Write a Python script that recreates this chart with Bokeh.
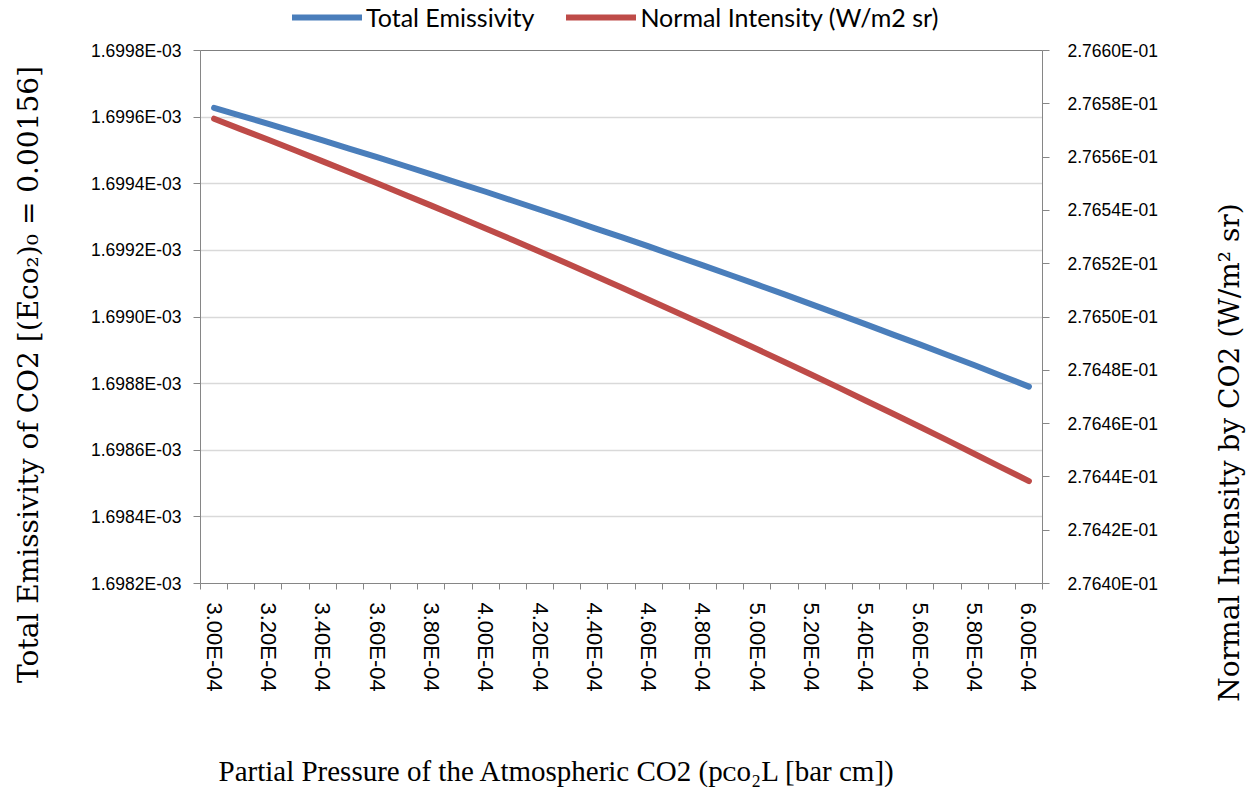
from math import pi
from bokeh.plotting import figure
from bokeh.layouts import row, column
from bokeh.models import (Range1d, LinearAxis, FixedTicker, Span, Label,
                          Legend, LegendItem)
from bokeh.embed import file_html
from bokeh.resources import INLINE

# ---------------- data ----------------
pressures = [3.0e-4, 3.1e-4, 3.2e-4, 3.3e-4, 3.4e-4, 3.5e-4, 3.6e-4, 3.7e-4,
             3.8e-4, 3.9e-4, 4.0e-4, 4.1e-4, 4.2e-4, 4.3e-4, 4.4e-4, 4.5e-4,
             4.6e-4, 4.7e-4, 4.8e-4, 4.9e-4, 5.0e-4, 5.1e-4, 5.2e-4, 5.3e-4,
             5.4e-4, 5.5e-4, 5.6e-4, 5.7e-4, 5.8e-4, 5.9e-4, 6.0e-4]

emissivity = [1.699628e-3, 1.699604e-3, 1.699580e-3, 1.699555e-3, 1.699530e-3,
              1.699505e-3, 1.699480e-3, 1.699454e-3, 1.699428e-3, 1.699402e-3,
              1.699376e-3, 1.699349e-3, 1.699322e-3, 1.699295e-3, 1.699267e-3,
              1.699240e-3, 1.699212e-3, 1.699183e-3, 1.699155e-3, 1.699126e-3,
              1.699097e-3, 1.699068e-3, 1.699038e-3, 1.699008e-3, 1.698978e-3,
              1.698947e-3, 1.698917e-3, 1.698886e-3, 1.698855e-3, 1.698823e-3,
              1.698791e-3]

intensity = [0.2765744, 0.2765704, 0.2765665, 0.2765625, 0.2765584, 0.2765543,
             0.2765502, 0.2765460, 0.2765418, 0.2765375, 0.2765332, 0.2765289,
             0.2765245, 0.2765201, 0.2765156, 0.2765111, 0.2765065, 0.2765019,
             0.2764973, 0.2764926, 0.2764879, 0.2764831, 0.2764783, 0.2764735,
             0.2764686, 0.2764637, 0.2764587, 0.2764537, 0.2764486, 0.2764435,
             0.2764384]

x_tick_values = pressures[::2]
x_tick_labels = ["3.00E-04", "3.20E-04", "3.40E-04", "3.60E-04", "3.80E-04",
                 "4.00E-04", "4.20E-04", "4.40E-04", "4.60E-04", "4.80E-04",
                 "5.00E-04", "5.20E-04", "5.40E-04", "5.60E-04", "5.80E-04",
                 "6.00E-04"]

left_ticks = [1.6982e-3, 1.6984e-3, 1.6986e-3, 1.6988e-3, 1.6990e-3,
              1.6992e-3, 1.6994e-3, 1.6996e-3, 1.6998e-3]
left_labels = ["1.6982E-03", "1.6984E-03", "1.6986E-03", "1.6988E-03",
               "1.6990E-03", "1.6992E-03", "1.6994E-03", "1.6996E-03",
               "1.6998E-03"]

right_ticks = [0.2764, 0.27642, 0.27644, 0.27646, 0.27648, 0.2765,
               0.27652, 0.27654, 0.27656, 0.27658, 0.2766]
right_labels = ["2.7640E-01", "2.7642E-01", "2.7644E-01", "2.7646E-01",
                "2.7648E-01", "2.7650E-01", "2.7652E-01", "2.7654E-01",
                "2.7656E-01", "2.7658E-01", "2.7660E-01"]

series_names = ["Total Emissivity", "Normal Intensity (W/m2 sr)"]
series_colors = ["#4A7EBB", "#BE4B48"]

left_title = "Total Emissivity of CO2 [(Eᴄᴏ₂)₀ = 0.00156]"
right_title = "Normal Intensity by CO2 (W/m² sr)"
x_title = "Partial Pressure of the Atmospheric CO2 (pᴄᴏ₂L [bar cm])"

# ---------------- main figure ----------------
half_step = (pressures[1] - pressures[0]) / 2
p = figure(frame_width=842, frame_height=533,
           min_border_left=140, min_border_right=158,
           min_border_top=12, min_border_bottom=157,
           x_range=Range1d(pressures[0] - half_step, pressures[-1] + half_step),
           y_range=Range1d(left_ticks[0], left_ticks[-1]),
           output_backend="svg", toolbar_location=None)
p.outline_line_color = None
p.background_fill_color = "white"
p.border_fill_color = "white"

p.extra_y_ranges = {"right": Range1d(right_ticks[0], right_ticks[-1])}

axis_col = "#868686"

ya = p.yaxis[0]
ya.ticker = FixedTicker(ticks=left_ticks)
ya.major_label_overrides = dict(zip(left_ticks, left_labels))
ya.axis_line_color = axis_col
ya.major_tick_line_color = axis_col
ya.major_tick_out = 7
ya.major_tick_in = 0
ya.minor_tick_line_color = None
ya.major_label_standoff = 12
ya.major_label_text_font = "Liberation Sans"
ya.major_label_text_font_size = "17.5px"
ya.major_label_text_color = "black"

ra = LinearAxis(y_range_name="right")
ra.ticker = FixedTicker(ticks=right_ticks)
ra.major_label_overrides = dict(zip(right_ticks, right_labels))
ra.axis_line_color = axis_col
ra.major_tick_line_color = axis_col
ra.major_tick_out = 7
ra.major_tick_in = 0
ra.minor_tick_line_color = None
ra.major_label_standoff = 18
ra.major_label_text_font = "Liberation Sans"
ra.major_label_text_font_size = "17.5px"
ra.major_label_text_color = "black"
p.add_layout(ra, "right")

boundaries = [v - half_step for v in pressures] + [pressures[-1] + half_step]
xa = p.xaxis[0]
xa.ticker = FixedTicker(ticks=x_tick_values, minor_ticks=boundaries)
xa.major_label_overrides = dict(zip(x_tick_values, x_tick_labels))
xa.axis_line_color = axis_col
xa.major_tick_line_color = None
xa.major_tick_out = 0
xa.major_tick_in = 0
xa.minor_tick_line_color = axis_col
xa.minor_tick_out = 6
xa.minor_tick_in = 0
xa.major_label_orientation = "vertical"
xa.major_label_standoff = 13
xa.major_label_text_font = "Liberation Sans"
xa.major_label_text_font_size = "22px"
xa.major_label_text_color = "black"

p.xgrid.visible = False
p.ygrid.ticker = FixedTicker(ticks=left_ticks)
p.ygrid.grid_line_color = "#D9D9D9"
p.ygrid.grid_line_width = 1.5

p.add_layout(Span(location=left_ticks[-1], dimension="width",
                  line_color="black", line_width=1))

line_style = dict(line_width=6, line_cap="round", line_join="round")
p.line(pressures, emissivity, line_color=series_colors[0], **line_style)
p.line(pressures, intensity, y_range_name="right",
       line_color=series_colors[1], **line_style)


# ---------------- text strips ----------------
def strip(w, h):
    f = figure(width=w, height=h, x_range=Range1d(0, 1), y_range=Range1d(0, 1),
               x_axis_type=None, y_axis_type=None, min_border=0,
               output_backend="svg", toolbar_location=None)
    f.outline_line_color = None
    f.background_fill_color = "white"
    f.border_fill_color = "white"
    return f


# legend strip (renderers hidden; only the legend is shown)
top_fig = strip(1140, 38)
h1 = top_fig.line(pressures, emissivity, line_color=series_colors[0],
                  visible=False, **line_style)
h2 = top_fig.line(pressures, intensity, line_color=series_colors[1],
                  visible=False, **line_style)
legend = Legend(items=[LegendItem(label=series_names[0], renderers=[h1]),
                       LegendItem(label=series_names[1], renderers=[h2])],
                orientation="horizontal", location=(92, 6),
                glyph_width=70, glyph_height=20, label_standoff=4, spacing=32,
                padding=0, margin=0, border_line_color=None,
                background_fill_alpha=0,
                label_text_font="Lato", label_text_font_size="25px",
                label_text_color="black")
top_fig.add_layout(legend)

left_fig = strip(60, 787)
left_fig.add_layout(Label(x=28, y=413, x_units="screen", y_units="screen",
                          text=left_title, angle=pi / 2,
                          text_align="center", text_baseline="middle",
                          text_font="DejaVu Serif", text_font_size="28px",
                          text_color="black"))

right_fig = strip(57, 787)
right_fig.add_layout(Label(x=29, y=335, x_units="screen", y_units="screen",
                           text=right_title, angle=pi / 2,
                           text_align="center", text_baseline="middle",
                           text_font="DejaVu Serif", text_font_size="28px",
                           text_color="black"))

bottom_fig = strip(1140, 47)
bottom_fig.add_layout(Label(x=18, y=17, x_units="screen", y_units="screen",
                            text=x_title,
                            text_align="left", text_baseline="middle",
                            text_font="Liberation Serif", text_font_size="29px",
                            text_color="black"))

layout = row(left_fig, column(top_fig, p, bottom_fig), right_fig)

open("out.html", "w").write(file_html(layout, INLINE))
